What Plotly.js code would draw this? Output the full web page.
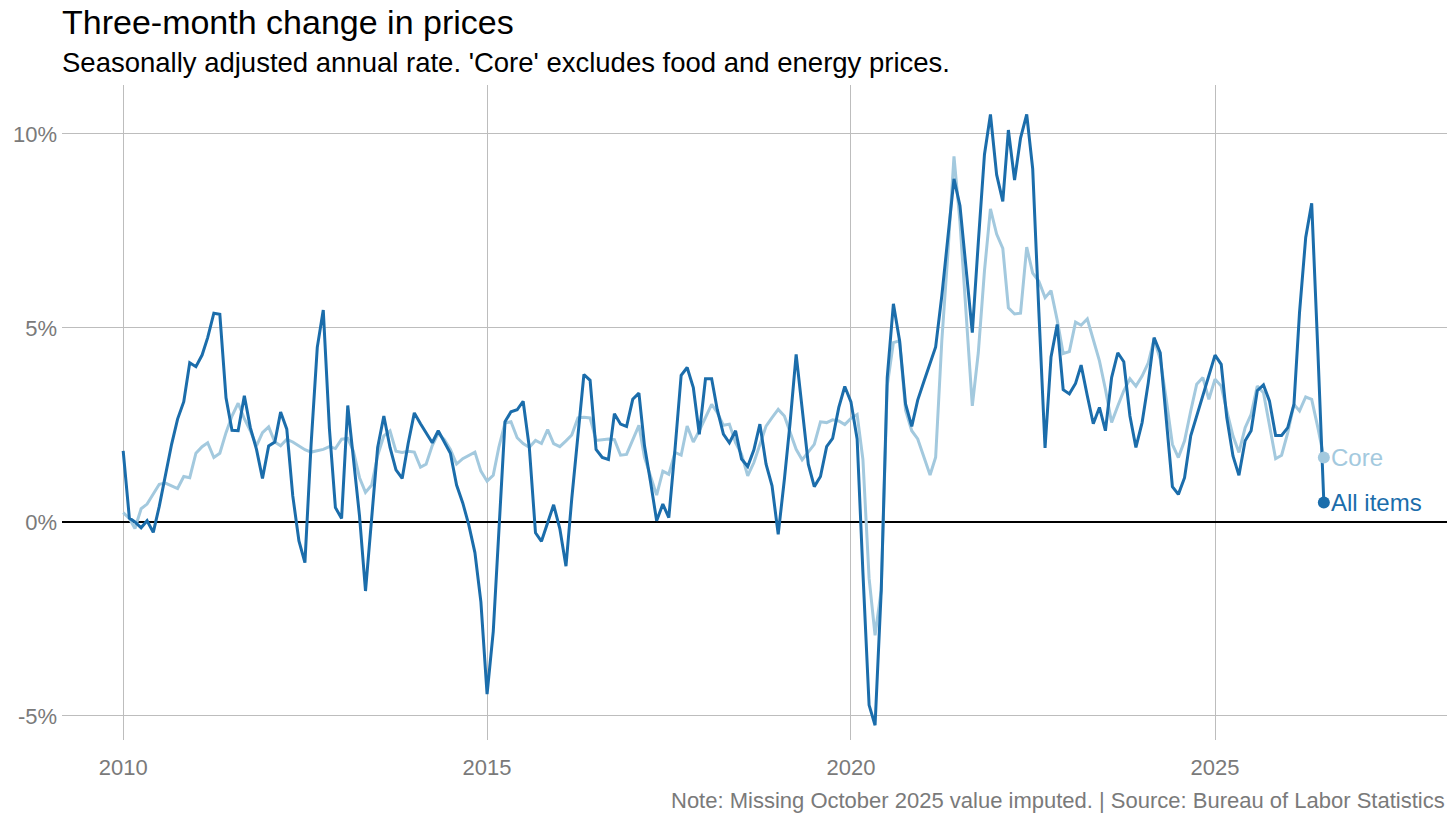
<!DOCTYPE html>
<html>
<head>
<meta charset="utf-8">
<script src="https://cdn.plot.ly/plotly-3.0.1.min.js"></script>
<style>
  body { margin: 0; background: #fff; }
  #chart { width: 1456px; height: 820px; }
</style>
</head>
<body>
<div id="chart"></div>
<script>
// monthly readings, Jan 2010 onward
const startYear = 2010;
const allItems = [
  1.83, 0.1, 0, -0.15, 0.03, -0.27, 0.4, 1.2, 2.0, 2.65, 3.1, 4.1,
  4.0, 4.3, 4.75, 5.38, 5.35, 3.2, 2.36, 2.35, 3.25, 2.43, 1.87, 1.12,
  1.96, 2.06, 2.83, 2.39, 0.67, -0.49, -1.05, 2.0, 4.5, 5.46, 2.4, 0.37,
  0.09, 3.0, 1.7, 0.15, -1.78, 0.1, 1.92, 2.73, 1.92, 1.34, 1.12, 2.02,
  2.81, 2.53, 2.28, 2.04, 2.35, 2.07, 1.77, 0.95, 0.49, -0.07, -0.79, -2.06,
  -4.44, -2.83, -0.2, 2.58, 2.84, 2.89, 3.11, 1.92, -0.28, -0.5, -0.02, 0.44,
  -0.17, -1.14, 0.6, 2.2, 3.8, 3.65, 1.87, 1.66, 1.61, 2.79, 2.52, 2.46,
  3.16, 3.32, 1.96, 1.01, 0.03, 0.46, 0.11, 1.87, 3.78, 3.98, 3.46, 2.26,
  3.69, 3.69, 2.9, 2.26, 2.04, 2.35, 1.62, 1.43, 1.86, 2.52, 1.49, 0.93,
  -0.32, 1.1, 2.52, 4.32, 2.95, 1.49, 0.91, 1.17, 1.94, 2.15, 2.95, 3.49,
  3.09, 2.14, -1.3, -4.72, -5.24, -1.76, 3.72, 5.62, 4.67, 3.04, 2.46, 3.14,
  3.62, 4.09, 4.51, 5.83, 7.31, 8.84, 8.15, 6.57, 4.88, 7.2, 9.47, 10.5,
  8.95, 8.26, 10.1, 8.81, 9.89, 10.5, 9.1, 5.41, 1.91, 4.25, 5.09, 3.41,
  3.3, 3.57, 4.04, 3.25, 2.53, 2.95, 2.35, 3.72, 4.36, 4.13, 2.73, 1.92,
  2.56, 3.59, 4.75, 4.36, 2.65, 0.91, 0.71, 1.14, 2.22, 2.73, 3.25, 3.76,
  4.3, 4.06, 2.69, 1.7, 1.2, 2.09, 2.35, 3.38, 3.53, 3.12, 2.23, 2.23,
  2.43, 3.03, 5.4, 7.33, 8.21, 4.4, 0.5
];
const core = [
  0.24, 0.09, -0.17, 0.34, 0.46, 0.71, 0.97, 1.0, 0.93, 0.86, 1.17, 1.14,
  1.77, 1.94, 2.04, 1.66, 1.77, 2.3, 2.73, 3.06, 2.66, 2.35, 1.96, 2.3,
  2.45, 2.06, 1.96, 2.13, 2.06, 1.96, 1.86, 1.8, 1.83, 1.87, 1.94, 1.89,
  2.13, 2.15, 1.83, 1.14, 0.76, 0.95, 1.71, 2.22, 2.35, 1.82, 1.79, 1.82,
  1.8, 1.41, 1.49, 1.97, 2.28, 2.12, 1.87, 1.49, 1.63, 1.71, 1.8, 1.31,
  1.05, 1.2, 1.92, 2.55, 2.58, 2.17, 2.02, 1.92, 2.1, 2.02, 2.38, 2.02,
  1.94, 2.09, 2.24, 2.68, 2.7, 2.68, 2.1, 2.12, 2.14, 2.12, 1.72, 1.74,
  2.13, 2.49, 1.66, 1.19, 0.69, 1.31, 1.23, 1.79, 1.72, 2.47, 2.06, 2.35,
  2.69, 3.03, 2.82, 2.49, 2.52, 2.04, 1.74, 1.19, 1.53, 2.0, 2.47, 2.69,
  2.9, 2.73, 2.3, 1.87, 1.6, 1.8, 2.0, 2.58, 2.56, 2.63, 2.6, 2.51,
  2.67, 2.77, 1.61, -1.45, -2.92, -1.76, 3.51, 4.62, 4.67, 2.88, 2.35, 2.14,
  1.67, 1.21, 1.67, 4.67, 6.89, 9.42, 7.73, 5.41, 2.99, 4.36, 6.47, 8.07,
  7.42, 7.05, 5.52, 5.36, 5.38, 7.08, 6.41, 6.2, 5.78, 5.96, 5.2, 4.34,
  4.39, 5.15, 5.07, 5.23, 4.67, 4.15, 3.42, 2.56, 2.99, 3.38, 3.69, 3.5,
  3.76, 4.1, 4.71, 4.19, 3.16, 2.0, 1.66, 2.09, 2.86, 3.55, 3.72, 3.16,
  3.68, 3.5, 2.86, 2.22, 1.79, 2.43, 2.77, 3.5, 3.33, 2.52, 1.63, 1.72,
  2.3, 3.03, 2.86, 3.22, 3.16, 2.43, 1.66
];
const yTicks = [-5, 0, 5, 10];
const yTickText = ['-5%', '0%', '5%', '10%'];
const xTicks = ['2010-01-01', '2015-01-01', '2020-01-01', '2025-01-01'];
const xTickText = ['2010', '2015', '2020', '2025'];

const dark = '#1b6dab';
const light = '#a3c9de';
const grey = '#7a7a7a';
const font = 'Liberation Sans, Arial, sans-serif';

function monthDates(n) {
  const out = [];
  for (let i = 0; i < n; i++) {
    const y = startYear + Math.floor(i / 12);
    const m = (i % 12) + 1;
    out.push(y + '-' + String(m).padStart(2, '0') + '-01');
  }
  return out;
}
const dates = monthDates(allItems.length);
const last = dates.length - 1;

const traces = [
  {x: dates, y: core, mode: 'lines', line: {color: light, width: 3}, hoverinfo: 'skip'},
  {x: dates, y: allItems, mode: 'lines', line: {color: dark, width: 3}, hoverinfo: 'skip'},
  {x: [dates[last]], y: [core[last]], mode: 'markers', marker: {color: light, size: 12}},
  {x: [dates[last]], y: [allItems[last]], mode: 'markers', marker: {color: dark, size: 12}}
];

const layout = {
  width: 1456, height: 820,
  margin: {l: 62, r: 9, t: 85, b: 80},
  paper_bgcolor: '#fff', plot_bgcolor: '#fff',
  showlegend: false,
  font: {family: font, color: grey, size: 22},
  xaxis: {
    type: 'date', range: ['2009-02-28', '2028-03-10'],
    tickvals: xTicks, ticktext: xTickText,
    showgrid: true, gridcolor: '#bdbdbd', gridwidth: 1,
    zeroline: false, showline: false, ticks: '', ticklabelstandoff: 12,
    tickfont: {size: 22, color: grey}
  },
  yaxis: {
    range: [-5.62, 11.26],
    tickvals: yTicks, ticktext: yTickText,
    showgrid: true, gridcolor: '#bdbdbd', gridwidth: 1,
    zeroline: true, zerolinecolor: '#000', zerolinewidth: 1.5,
    showline: false, ticks: '', ticklabelstandoff: 4,
    tickfont: {size: 22, color: grey}
  },
  annotations: [
    {x: 0, xref: 'paper', y: 1, yref: 'paper', xshift: -2, yshift: 63, xanchor: 'left', yanchor: 'middle',
     text: 'Three-month change in prices', showarrow: false, font: {size: 34, color: '#000'}},
    {x: 0, xref: 'paper', y: 1, yref: 'paper', xshift: -2, yshift: 23, xanchor: 'left', yanchor: 'middle',
     text: 'Seasonally adjusted annual rate. \'Core\' excludes food and energy prices.',
     showarrow: false, font: {size: 27.5, color: '#000'}},
    {x: dates[last], y: core[last], text: 'Core', xanchor: 'left', xshift: 5,
     showarrow: false, font: {size: 24, color: light}},
    {x: dates[last], y: allItems[last], text: 'All items', xanchor: 'left', xshift: 5,
     showarrow: false, font: {size: 24, color: dark}},
    {x: 1, xref: 'paper', y: 0, yref: 'paper', yshift: -60, xanchor: 'right', yanchor: 'middle',
     text: 'Note: Missing October 2025 value imputed. | Source: Bureau of Labor Statistics',
     showarrow: false, font: {size: 22, color: grey}}
  ]
};

Plotly.newPlot('chart', traces, layout, {displayModeBar: false, staticPlot: true});
</script>
</body>
</html>
